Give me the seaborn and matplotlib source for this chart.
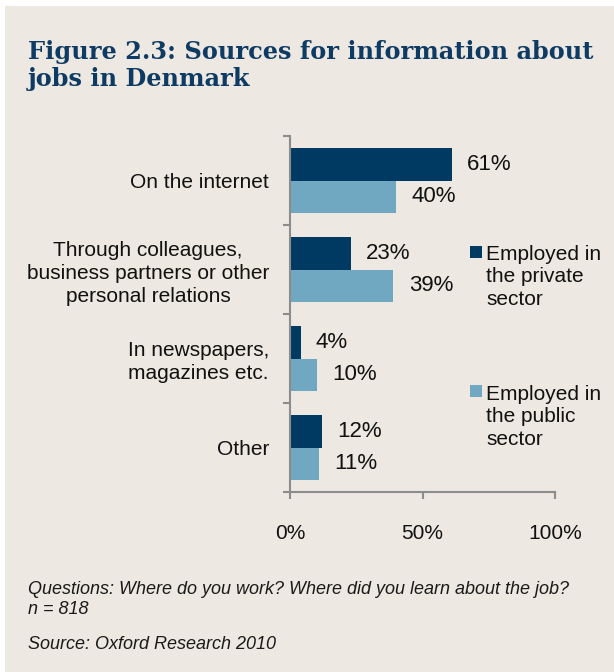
import matplotlib
matplotlib.use("Agg")
import matplotlib.pyplot as plt
from matplotlib.patches import Rectangle
from matplotlib.ticker import FixedLocator
import pandas as pd
import seaborn as sns

# Survey results: share of respondents per information source
categories = [
    "On the internet",
    "Through colleagues,\nbusiness partners or other\npersonal relations",
    "In newspapers,\nmagazines etc.",
    "Other",
]
private_sector = [61, 23, 4, 12]
public_sector = [40, 39, 10, 11]
series_names = ["Employed in\nthe private\nsector", "Employed in\nthe public\nsector"]
x_ticks = [0, 50, 100]
x_tick_labels = ["0%", "50%", "100%"]

title = "Figure 2.3: Sources for information about\njobs in Denmark"
note = "Questions: Where do you work? Where did you learn about the job?\nn = 818"
source = "Source: Oxford Research 2010"

DARK = "#003A63"
LIGHT = "#6FA8C0"
BG = "#EDE8E1"
NAVY = "#0D3B63"
SPINE = "#8C8C8C"

df = pd.DataFrame({
    "source": categories * 2,
    "share": private_sector + public_sector,
    "sector": [series_names[0]] * 4 + [series_names[1]] * 4,
})

sns.set_theme(style="white")
plt.rcParams["font.family"] = ["Liberation Sans", "DejaVu Sans"]

W, H = 614, 672
fig = plt.figure(figsize=(W / 100, H / 100), dpi=100, facecolor="white")
fig.add_artist(Rectangle((5 / W, 0), 1 - 5 / W, 1 - 6 / H, transform=fig.transFigure,
                         facecolor=BG, edgecolor="none", zorder=-10))

ax = fig.add_axes([290 / W, 1 - 492 / H, 265 / W, (492 - 136) / H])
ax.set_facecolor("none")

sns.barplot(data=df, y="source", x="share", hue="sector", orient="h",
            palette=[DARK, LIGHT], width=0.72, saturation=1, ax=ax,
            legend=False, linewidth=0)

for container, vals in zip(ax.containers, [private_sector, public_sector]):
    ax.bar_label(container, labels=[f"{v}%" for v in vals], padding=11,
                 fontsize=16, color="#111111")

ax.set_xlim(0, 100)
ax.set_ylim(3.5, -0.5)
ax.set_xlabel("")
ax.set_ylabel("")

ax.set_xticks(x_ticks)
ax.set_xticklabels(x_tick_labels, fontsize=15, color="#111111")
ax.tick_params(axis="x", direction="out", length=5, width=1.5, color=SPINE, pad=18,
               bottom=True)

ax.set_yticks(range(len(categories)))
ax.set_yticklabels(categories, fontsize=15, color="#111111",
                   multialignment="center", linespacing=1.25)
ax.tick_params(axis="y", which="major", length=0, pad=15)
ax.yaxis.set_minor_locator(FixedLocator([-0.5, 0.5, 1.5, 2.5, 3.5]))
ax.tick_params(axis="y", which="minor", direction="out", length=5, width=1.5,
               color=SPINE, left=True)

for side in ["top", "right"]:
    ax.spines[side].set_visible(False)
for side in ["left", "bottom"]:
    ax.spines[side].set_color(SPINE)
    ax.spines[side].set_linewidth(1.5)

# Legend drawn as stacked entries beside the bars (square beside the first line)
for name, color, first_base, last_base in zip(series_names, [DARK, LIGHT],
                                              [259, 398], [305, 445]):
    fig.add_artist(Rectangle((470 / W, 1 - (first_base - 1) / H), 12 / W, 12 / H,
                             transform=fig.transFigure, facecolor=color,
                             edgecolor="none"))
    fig.text(486 / W, 1 - last_base / H, name, fontsize=15, color="#111111",
             va="baseline", ha="left", linespacing=1.24)

fig.text(28 / W, 1 - 86 / H, title, fontsize=17.3, fontweight="bold",
         family="DejaVu Serif", color=NAVY, va="baseline", ha="left",
         linespacing=1.14)

fig.text(28 / W, 1 - 614 / H, note, fontsize=13, style="italic",
         color="#1A1A1A", va="baseline", ha="left", linespacing=1.26)
fig.text(28 / W, 1 - 649 / H, source, fontsize=13, style="italic",
         color="#1A1A1A", va="baseline", ha="left")

fig.savefig("out.png", dpi=100, facecolor=fig.get_facecolor())
